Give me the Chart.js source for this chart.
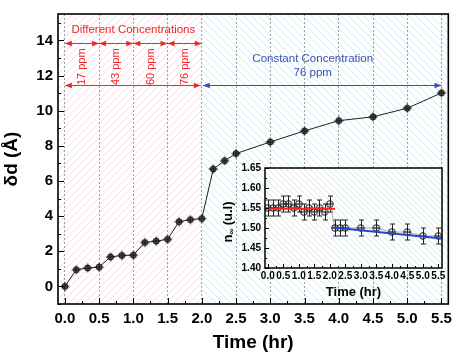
<!DOCTYPE html>
<html>
<head>
<meta charset="utf-8">
<script src="https://cdn.jsdelivr.net/npm/chart.js@4.4.0/dist/chart.umd.min.js"></script>
<style>
body { margin: 0; background: #fff; }
#wrap { position: relative; width: 458px; height: 354px; }
#main { position: absolute; left: 0; top: 0; }
#inset { position: absolute; left: 218px; top: 158px; }
</style>
</head>
<body>
<div id="wrap">
	<canvas id="main" width="458" height="354"></canvas>
	<canvas id="inset" width="232" height="142"></canvas>
</div>
<script>
const FONT = "'Liberation Sans', Arial, sans-serif";

// Datos principales: delta d vs tiempo
const timeHr = [0, 0.167, 0.333, 0.5, 0.667, 0.833, 1.0, 1.167, 1.333, 1.5, 1.667, 1.833, 2.0,
	2.167, 2.333, 2.5, 3.0, 3.5, 4.0, 4.5, 5.0, 5.5];
const deltaD = [0, 0.95, 1.05, 1.1, 1.68, 1.76, 1.78, 2.5, 2.58, 2.68, 3.68, 3.8, 3.86,
	6.68, 7.15, 7.56, 8.22, 8.85, 9.43, 9.65, 10.14, 11.01];
const xTicksMain = [0, 0.5, 1.0, 1.5, 2.0, 2.5, 3.0, 3.5, 4.0, 4.5, 5.0, 5.5];
const yTicksMain = [0, 2, 4, 6, 8, 10, 12, 14];

// Datos del recuadro: indice n vs tiempo
const nInf = [1.55, 1.55, 1.55, 1.56, 1.56, 1.55, 1.56, 1.54, 1.55, 1.54, 1.55, 1.54, 1.56,
	1.50, 1.50, 1.50, 1.50, 1.50, 1.49, 1.49, 1.48, 1.48];
const nErr = [0.02, 0.02, 0.02, 0.02, 0.02, 0.02, 0.02, 0.02, 0.02, 0.02, 0.02, 0.02, 0.02,
	0.02, 0.02, 0.02, 0.02, 0.02, 0.02, 0.02, 0.02, 0.02];
const xTicksInset = [0, 0.5, 1.0, 1.5, 2.0, 2.5, 3.0, 3.5, 4.0, 4.5, 5.0, 5.5];
const yTicksInset = [1.40, 1.45, 1.50, 1.55, 1.60, 1.65];
const redFitX = [-0.09, 2.17];
const redFitY = [1.548, 1.548];
const blueFitX = [2.1, 5.62];
const blueFitY = [1.501, 1.474];

// Anotaciones
const concBounds = [0, 0.5, 1.0, 1.5, 2.0];
const concLabels = ['17 ppm', '43 ppm', '60 ppm', '76 ppm'];

const RED = '#f02828';
const BLUE = '#3a4fb8';
const PINK_HATCH = 'rgba(238,130,160,0.32)';
const BLUE_HATCH = 'rgba(120,200,222,0.4)';

function marker(r, fill, ext) {
	const s = Math.ceil(2 * (r + ext)) + 3;
	const c = document.createElement('canvas');
	c.width = s; c.height = s;
	const g = c.getContext('2d');
	const m = s / 2;
	g.lineWidth = 1;
	g.strokeStyle = '#111';
	g.beginPath();
	g.arc(m, m, r, 0, Math.PI * 2);
	if (fill) { g.fillStyle = fill; g.fill(); }
	g.stroke();
	g.beginPath();
	g.moveTo(m - r - ext, m); g.lineTo(m + r + ext, m);
	if (ext > 0) { g.moveTo(m, m - r - ext); g.lineTo(m, m + r + ext); }
	g.stroke();
	return c;
}

function hatch(ctx, x0, x1, top, bottom, spacing, color, up) {
	ctx.save();
	ctx.beginPath();
	ctx.rect(x0, top, x1 - x0, bottom - top);
	ctx.clip();
	ctx.strokeStyle = color;
	ctx.lineWidth = 1;
	ctx.beginPath();
	const h = bottom - top;
	for (let s = x0 - h - spacing; s < x1 + h; s += spacing) {
		if (up) { ctx.moveTo(s, bottom); ctx.lineTo(s + h, top); }
		else { ctx.moveTo(s, top); ctx.lineTo(s + h, bottom); }
	}
	ctx.stroke();
	ctx.restore();
}

function inTicks(chart, xMinor, yMinor, major, minor, bw) {
	const {ctx, chartArea: a, scales: {x, y}} = chart;
	ctx.save();
	ctx.strokeStyle = '#000';
	ctx.lineWidth = 1;
	ctx.beginPath();
	const xt = (v, len) => { const p = Math.round(x.getPixelForValue(v)) + 0.5; ctx.moveTo(p, a.bottom); ctx.lineTo(p, a.bottom - len); };
	const yt = (v, len) => { const p = Math.round(y.getPixelForValue(v)) + 0.5; ctx.moveTo(a.left, p); ctx.lineTo(a.left + len, p); };
	x.ticks.forEach(t => xt(t.value, major));
	xMinor.forEach(v => xt(v, minor));
	y.ticks.forEach(t => yt(t.value, major));
	yMinor.forEach(v => yt(v, minor));
	ctx.stroke();
	ctx.lineWidth = bw;
	ctx.strokeRect(a.left, a.top, a.right - a.left, a.bottom - a.top);
	ctx.restore();
}

function arrowHead(ctx, x, y, dir, color) {
	ctx.fillStyle = color;
	ctx.beginPath();
	ctx.moveTo(x, y);
	ctx.lineTo(x - dir * 7, y - 2.8);
	ctx.lineTo(x - dir * 7, y + 2.8);
	ctx.closePath();
	ctx.fill();
}

function dblArrow(ctx, x1, x2, y, color) {
	ctx.strokeStyle = color;
	ctx.lineWidth = 1;
	ctx.beginPath();
	ctx.moveTo(x1, y); ctx.lineTo(x2, y);
	ctx.stroke();
	arrowHead(ctx, x1, y, -1, color);
	arrowHead(ctx, x2, y, 1, color);
}

// Grafica principal
const mainPlugin = {
	id: 'mainDeco',
	beforeDraw(chart) {
		const {ctx, chartArea: a, scales: {x}} = chart;
		ctx.save();
		ctx.fillStyle = '#fff';
		ctx.fillRect(a.left, a.top, a.right - a.left, a.bottom - a.top);
		ctx.restore();
		const split = x.getPixelForValue(2.0);
		hatch(ctx, a.left, split, a.top, a.bottom, 7.5, PINK_HATCH, true);
		hatch(ctx, split, a.right, a.top, a.bottom, 7.5, BLUE_HATCH, false);
	},
	afterDraw(chart) {
		const {ctx, scales: {x, y}} = chart;
		const px = v => x.getPixelForValue(v);
		const py = v => y.getPixelForValue(v);
		inTicks(chart, [0.25, 0.75, 1.25, 1.75, 2.25, 2.75, 3.25, 3.75, 4.25, 4.75, 5.25],
			[-1, 1, 3, 5, 7, 9, 11, 13, 15], 6, 3, 1.6);

		ctx.save();
		ctx.font = '11.5px ' + FONT;
		ctx.textAlign = 'center';
		ctx.textBaseline = 'middle';
		ctx.fillStyle = RED;
		ctx.fillText('Different Concentrations', px(1.0), py(14.62));

		for (let i = 0; i < concBounds.length - 1; i++) {
			dblArrow(ctx, px(concBounds[i]), px(concBounds[i + 1]), Math.round(py(13.85)) + 0.5, RED);
			ctx.save();
			ctx.translate(px((concBounds[i] + concBounds[i + 1]) / 2) + 0.2, py(12.5));
			ctx.rotate(-Math.PI / 2);
			ctx.fillStyle = RED;
			ctx.font = '11px ' + FONT;
			ctx.fillText(concLabels[i], 0, 0);
			ctx.restore();
		}
		const yRow = Math.round(py(11.45)) + 0.5;
		dblArrow(ctx, px(0), px(2.0) - 1, yRow, RED);
		dblArrow(ctx, px(2.0) + 1, px(5.5), yRow, BLUE);

		ctx.fillStyle = BLUE;
		ctx.font = '11.5px ' + FONT;
		ctx.fillText('Constant Concentration', px(3.62), py(12.96));
		ctx.fillText('76 ppm', px(3.62), py(12.18));
		ctx.restore();
	}
};

new Chart(document.getElementById('main'), {
	type: 'line',
	data: {
		datasets: [{
			data: timeHr.map((t, i) => ({x: t, y: deltaD[i]})),
			borderColor: '#222',
			borderWidth: 1,
			pointStyle: marker(3, '#5a5a5a', 1.5),
			tension: 0
		}]
	},
	options: {
		responsive: false,
		animation: false,
		layout: {padding: {top: 13, right: 5, left: 0, bottom: 0}},
		plugins: {legend: {display: false}, tooltip: {enabled: false}},
		scales: {
			x: {
				type: 'linear',
				min: -0.1,
				max: 5.6,
				afterBuildTicks: s => { s.ticks = xTicksMain.map(v => ({value: v})); },
				afterFit: s => { s.height = 50; },
				grid: {display: true, color: '#a0a0a0', lineWidth: 1, drawTicks: false},
				border: {display: false, dash: [2, 2]},
				ticks: {
					padding: 6,
					color: '#000',
					font: {family: FONT, size: 15, weight: 'bold'},
					maxRotation: 0,
					autoSkip: false,
					callback: v => Number(v).toFixed(1)
				},
				title: {display: true, text: 'Time (hr)', color: '#000', padding: 0,
					font: {family: FONT, size: 19, weight: 'bold'}}
			},
			y: {
				type: 'linear',
				min: -1,
				max: 15.5,
				afterBuildTicks: s => { s.ticks = yTicksMain.map(v => ({value: v})); },
				afterFit: s => { s.width = 58; },
				grid: {display: false, drawTicks: false},
				border: {display: false},
				ticks: {
					padding: 5,
					color: '#000',
					font: {family: FONT, size: 15, weight: 'bold'},
					callback: v => String(v)
				},
				title: {display: true, text: 'δd (Å)', color: '#000', padding: 0,
					font: {family: FONT, size: 19, weight: 'bold'}}
			}
		}
	},
	plugins: [mainPlugin]
});

// Recuadro
const insetPlugin = {
	id: 'insetDeco',
	beforeDraw(chart) {
		const {ctx, chartArea: a, scales: {x}} = chart;
		ctx.save();
		ctx.fillStyle = '#fff';
		ctx.fillRect(a.left, a.top, a.right - a.left, a.bottom - a.top);
		ctx.restore();
		const split = x.getPixelForValue(2.05);
		hatch(ctx, a.left, split, a.top, a.bottom, 6, PINK_HATCH, false);
		hatch(ctx, split, a.right, a.top, a.bottom, 6, BLUE_HATCH, false);
	},
	beforeDatasetsDraw(chart) {
		const {ctx, scales: {x, y}} = chart;
		ctx.save();
		ctx.strokeStyle = '#222';
		ctx.lineWidth = 1;
		ctx.beginPath();
		timeHr.forEach((t, i) => {
			const px = Math.round(x.getPixelForValue(t)) + 0.5;
			const y1 = y.getPixelForValue(nInf[i] + nErr[i]);
			const y2 = y.getPixelForValue(nInf[i] - nErr[i]);
			ctx.moveTo(px, y1); ctx.lineTo(px, y2);
			ctx.moveTo(px - 2.5, y1); ctx.lineTo(px + 2.5, y1);
			ctx.moveTo(px - 2.5, y2); ctx.lineTo(px + 2.5, y2);
		});
		ctx.stroke();
		ctx.restore();
	},
	afterDraw(chart) {
		const {ctx, chartArea: a} = chart;
		inTicks(chart, [0.25, 0.75, 1.25, 1.75, 2.25, 2.75, 3.25, 3.75, 4.25, 4.75, 5.25],
			[1.425, 1.475, 1.525, 1.575, 1.625], 4, 2, 1.5);
		// titulo eje y con subindice
		ctx.save();
		ctx.translate(10, (a.top + a.bottom) / 2 + 4);
		ctx.rotate(-Math.PI / 2);
		ctx.fillStyle = '#000';
		ctx.textBaseline = 'middle';
		ctx.textAlign = 'left';
		const big = 'bold 13px ' + FONT, small = 'bold 8px ' + FONT;
		ctx.font = big; const wn = ctx.measureText('n').width; const wr = ctx.measureText(' (u.l)').width;
		ctx.font = small; const ws = ctx.measureText('∞').width;
		let sx = -(wn + ws + wr) / 2;
		ctx.font = big; ctx.fillText('n', sx, 0);
		ctx.font = small; ctx.fillText('∞', sx + wn, 4);
		ctx.font = big; ctx.fillText(' (u.l)', sx + wn + ws, 0);
		ctx.restore();
	}
};

new Chart(document.getElementById('inset'), {
	type: 'line',
	data: {
		datasets: [{
			data: redFitX.map((v, i) => ({x: v, y: redFitY[i]})),
			borderColor: '#ff2020',
			borderWidth: 2,
			pointRadius: 0
		}, {
			data: blueFitX.map((v, i) => ({x: v, y: blueFitY[i]})),
			borderColor: '#2a44c8',
			borderWidth: 2,
			pointRadius: 0
		}, {
			data: timeHr.map((t, i) => ({x: t, y: nInf[i]})),
			borderColor: '#9a9a9a',
			borderWidth: 0.8,
			pointStyle: marker(3.3, null, 0),
			tension: 0
		}]
	},
	options: {
		responsive: false,
		animation: false,
		layout: {padding: {top: 9, right: 8, left: 0, bottom: 0}},
		plugins: {legend: {display: false}, tooltip: {enabled: false}},
		scales: {
			x: {
				type: 'linear',
				min: -0.09,
				max: 5.62,
				afterBuildTicks: s => { s.ticks = xTicksInset.map(v => ({value: v})); },
				afterFit: s => { s.height = 32; },
				grid: {display: false, drawTicks: false},
				border: {display: false},
				ticks: {
					padding: 2,
					color: '#000',
					font: {family: FONT, size: 10, weight: 'bold'},
					maxRotation: 0,
					autoSkip: false,
					callback: v => Number(v).toFixed(1)
				},
				title: {display: true, text: 'Time (hr)', color: '#000', padding: 0,
					font: {family: FONT, size: 13, weight: 'bold'}}
			},
			y: {
				type: 'linear',
				min: 1.40,
				max: 1.65,
				afterBuildTicks: s => { s.ticks = yTicksInset.map(v => ({value: v})); },
				afterFit: s => { s.width = 47; },
				grid: {display: false, drawTicks: false},
				border: {display: false},
				ticks: {
					padding: 4,
					color: '#000',
					font: {family: FONT, size: 10, weight: 'bold'},
					callback: v => Number(v).toFixed(2)
				}
			}
		}
	},
	plugins: [insetPlugin]
});
</script>
</body>
</html>
